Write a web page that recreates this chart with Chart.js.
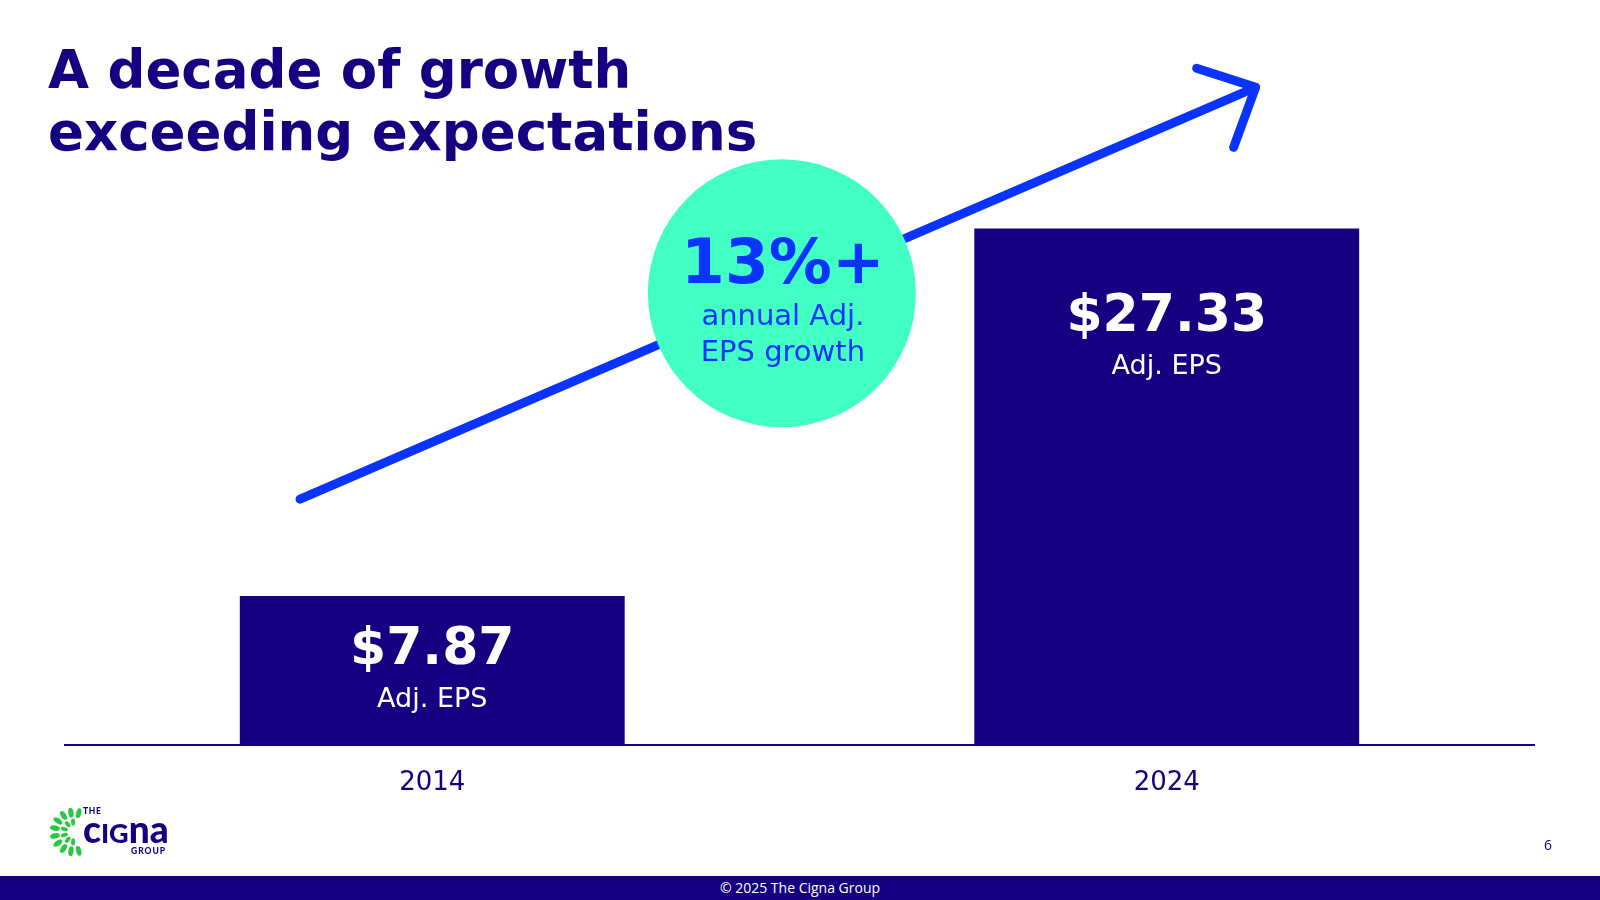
<!DOCTYPE html>
<html>
<head>
<meta charset="utf-8">
<script src="https://cdn.jsdelivr.net/npm/chart.js@4/dist/chart.umd.min.js"></script>
<style>
  html, body { margin: 0; padding: 0; background: #fff; }
  #wrap { position: relative; width: 1600px; height: 900px; overflow: hidden; background: #fff; }
  #chart { position: absolute; left: 0; top: 0; }
  #title { position: absolute; left: 48px; top: 39px; margin: 0; font-family: "DejaVu Sans", Verdana, sans-serif; font-weight: bold; font-size: 53px; line-height: 62px; color: #140080; white-space: nowrap; }
  #footer { position: absolute; left: 0; top: 876px; width: 1600px; height: 24px; background: #140080; color: #fff; font-family: "Open Sans", sans-serif; font-size: 14px; line-height: 24px; text-align: center; }
  #page { position: absolute; left: 1540px; top: 835px; width: 16px; text-align: center; font-family: "Open Sans", sans-serif; font-size: 14px; line-height: 20px; color: #140080; }
  #logo { position: absolute; left: 40px; top: 800px; width: 140px; height: 60px; }
  #logo svg { position: absolute; left: 0; top: 0; }
  .lg { position: absolute; font-family: Lato, "DejaVu Sans", sans-serif; font-weight: 900; color: #140080; white-space: nowrap; }
</style>
</head>
<body>
<div id="wrap">
  <canvas id="chart" width="1600" height="900"></canvas>
  <h1 id="title">A decade of growth<br>exceeding expectations</h1>
  <div id="logo">
    <svg id="leaves" width="60" height="60" viewBox="0 0 60 60"></svg>
    <span class="lg" style="left:43px; top:6px; font-size:8.5px; letter-spacing:0.7px;">THE</span>
    <span class="lg" style="left:43px; top:10px; font-size:37px; line-height:37px;"><span>c</span><span style="font-size:27px;">IG</span><span>na</span></span>
    <span class="lg" style="left:91px; top:46px; font-size:8.5px; letter-spacing:1px;">GROUP</span>
  </div>
  <div id="page">6</div>
  <div id="footer">© 2025 The Cigna Group</div>
</div>
<script>
// ---- data ----
const categories = ['2014', '2024'];
const adjEps = [7.87, 27.33];
const valueCaption = 'Adj. EPS';
const growthHeadline = '13%+';
const growthCaption = ['annual Adj.', 'EPS growth'];
const yAxisMax = 30;

// ---- colours ----
const NAVY = '#140080';
const BLUE = '#0A33FF';
const MINT = '#42FFC4';
const LEAF = '#27C941';

// logo leaves (decoration)
(function () {
  const svg = document.getElementById('leaves');
  const ns = 'http://www.w3.org/2000/svg';
  const cx = 34, cy = 32;
  const rings = [{ r: 19.5, from: 76, to: 284, n: 10, rx: 5, ry: 2.6 }, { r: 10, from: 95, to: 265, n: 6, rx: 3.6, ry: 2 }];
  rings.forEach(g => {
    for (let i = 0; i < g.n; i++) {
      const a = g.from + (g.to - g.from) * i / (g.n - 1);
      const rad = a * Math.PI / 180;
      const x = cx + g.r * Math.cos(rad), y = cy + g.r * Math.sin(rad);
      const e = document.createElementNS(ns, 'ellipse');
      e.setAttribute('cx', x.toFixed(2)); e.setAttribute('cy', y.toFixed(2));
      e.setAttribute('rx', g.rx); e.setAttribute('ry', g.ry);
      e.setAttribute('fill', LEAF);
      e.setAttribute('transform', `rotate(${a.toFixed(1)} ${x.toFixed(2)} ${y.toFixed(2)})`);
      svg.appendChild(e);
    }
  });
})();

const decor = {
  id: 'decor',
  afterDatasetsDraw(chart) {
    const ctx = chart.ctx;
    const xs = chart.scales.x, ys = chart.scales.y;
    const meta = chart.getDatasetMeta(0);

    // value labels inside bars
    meta.data.forEach((bar, i) => {
      const top = bar.y, base = bar.base;
      const vBase = Math.min(top + 103, (top + base) / 2 - 6);
      ctx.save();
      ctx.fillStyle = '#ffffff';
      ctx.textAlign = 'center';
      ctx.textBaseline = 'alphabetic';
      ctx.font = 'bold 52px "DejaVu Sans", Verdana, sans-serif';
      ctx.fillText('$' + adjEps[i].toFixed(2), bar.x, vBase);
      ctx.font = '27px "DejaVu Sans", Verdana, sans-serif';
      ctx.fillText(valueCaption, bar.x, vBase + 43);
      ctx.restore();
    });

    // growth arrow
    const x0 = xs.getPixelForValue(-0.18), y0 = ys.getPixelForValue(13.0);
    const x1 = xs.getPixelForValue(1.121), y1 = ys.getPixelForValue(34.8);
    ctx.save();
    ctx.strokeStyle = BLUE;
    ctx.lineWidth = 9;
    ctx.lineCap = 'round';
    ctx.lineJoin = 'round';
    ctx.beginPath();
    ctx.moveTo(x0, y0); ctx.lineTo(x1, y1);
    ctx.stroke();
    ctx.beginPath();
    ctx.moveTo(x1 - 59, y1 - 19);
    ctx.lineTo(x1, y1);
    ctx.lineTo(x1 - 22, y1 + 60);
    ctx.stroke();
    ctx.restore();

    // growth bubble
    const cx = xs.getPixelForValue(0.476), cy = ys.getPixelForValue(23.9);
    ctx.save();
    ctx.fillStyle = MINT;
    ctx.beginPath();
    ctx.arc(cx, cy, 134, 0, Math.PI * 2);
    ctx.fill();
    ctx.fillStyle = BLUE;
    ctx.textAlign = 'center';
    ctx.textBaseline = 'alphabetic';
    ctx.font = 'bold 63px "DejaVu Sans", Verdana, sans-serif';
    ctx.fillText(growthHeadline, cx + 1, cy - 10);
    ctx.font = '29px "DejaVu Sans", Verdana, sans-serif';
    ctx.fillText(growthCaption[0], cx + 1, cy + 32);
    ctx.fillText(growthCaption[1], cx + 1, cy + 68);
    ctx.restore();
  }
};

new Chart(document.getElementById('chart'), {
  type: 'bar',
  data: {
    labels: categories,
    datasets: [{
      data: adjEps,
      backgroundColor: NAVY,
      borderWidth: 0,
      barPercentage: 0.524,
      categoryPercentage: 1.0
    }]
  },
  options: {
    responsive: false,
    animation: false,
    events: [],
    layout: { padding: { top: 178, left: 65, right: 66, bottom: 78 } },
    plugins: { legend: { display: false }, title: { display: false }, tooltip: { enabled: false } },
    scales: {
      x: {
        grid: { display: false, drawTicks: false, tickLength: 0 },
        border: { display: true, color: NAVY, width: 2 },
        ticks: { color: NAVY, padding: 23, font: { family: '"DejaVu Sans", Verdana, sans-serif', size: 26 } }
      },
      y: {
        display: false,
        min: 0,
        max: yAxisMax
      }
    }
  },
  plugins: [decor]
});
</script>
</body>
</html>
